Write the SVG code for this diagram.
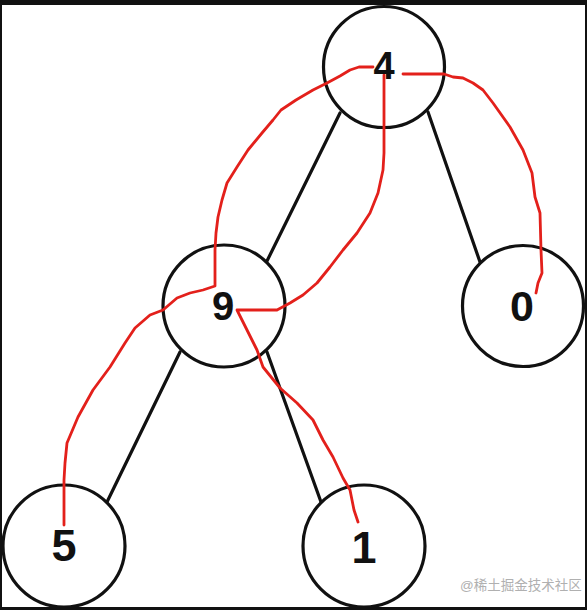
<svg xmlns="http://www.w3.org/2000/svg" width="587" height="610" viewBox="0 0 587 610">
<style>
.node circle{fill:#fff;stroke:#111;stroke-width:3.2}
.node text{font-family:"Liberation Sans",Arial,sans-serif;font-weight:bold;fill:#111;text-anchor:middle}
.edge{stroke:#111;stroke-width:3.2;stroke-linecap:round;fill:none}
.trace{stroke:#e3201b;stroke-width:2.8;fill:none;stroke-linejoin:round;stroke-linecap:round}
.frame{fill:#111}
.wm{font-family:"Liberation Sans","Noto Sans CJK SC",sans-serif;font-size:13.5px;fill:#b0b0b0}
</style>
<rect x="0" y="0" width="587" height="610" fill="#fff"/>
<g id="connectors">
<line class="edge" x1="340" y1="113" x2="267" y2="261"/>
<line class="edge" x1="428" y1="112" x2="480" y2="262"/>
<line class="edge" x1="180" y1="352" x2="107" y2="502"/>
<line class="edge" x1="267" y1="352" x2="321" y2="502"/>
</g>
<g id="node-4" class="node"><circle cx="384" cy="67" r="60.5"/></g>
<g id="node-9" class="node"><circle cx="224" cy="306" r="61"/></g>
<g id="node-0" class="node"><circle cx="523" cy="306" r="60.5"/></g>
<g id="node-5" class="node"><circle cx="64" cy="546" r="61"/></g>
<g id="node-1" class="node"><circle cx="364" cy="546" r="61"/></g>
<g id="traversal">
<path class="trace" d="M373,67 L359,67 L350,70 L340,76 L327,83 L313,90 L296,100 L281,110 L273,120 L262,133 L248,150 L237,167 L227,183 L222,200 L218,217 L216,233 L215,250 L215,286 L203,290 L190,293 L177,298 L163,310 L150,315 L135,328 L125,343 L110,367 L93,390 L78,417 L67,443 L65,463 L64,480 L64,525"/>
<path class="trace" d="M384,75 L384,153 L383,170 L378,193 L370,213 L357,233 L343,250 L330,267 L317,283 L303,295 L290,303 L277,310 L237,310 L247,330 L257,350 L263,367 L280,388 L297,403 L313,420 L323,440 L333,457 L343,478 L350,490 L354,510 L358,522"/>
<path class="trace" d="M403,74 L444,74 L453,77 L463,78 L473,83 L483,90 L493,103 L510,127 L523,150 L532,173 L535,197 L540,213 L541,250 L542,273 L538,283 L536,293"/>
</g>
<g id="labels" class="node">
<text x="384" y="79" font-size="38">4</text>
<text x="223" y="320" font-size="40">9</text>
<text x="522" y="321" font-size="43">0</text>
<text x="64" y="561" font-size="45">5</text>
<text x="364" y="563" font-size="45">1</text>
</g>
<text class="wm" x="460" y="590">@稀土掘金技术社区</text>
<rect class="frame" x="0" y="0" width="587" height="5"/>
<rect class="frame" x="0" y="0" width="2" height="610"/>
<rect class="frame" x="585" y="0" width="2" height="610"/>
<rect class="frame" x="0" y="607" width="587" height="3"/>
</svg>
